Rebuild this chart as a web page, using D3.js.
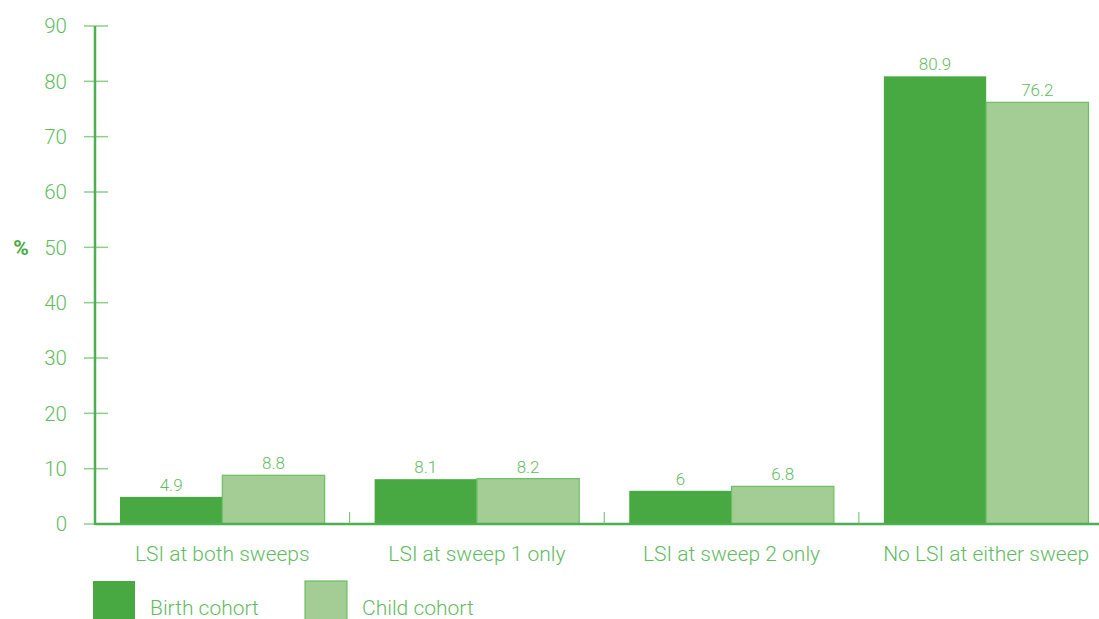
<!DOCTYPE html>
<html><head><meta charset="utf-8">
<script src="https://cdn.jsdelivr.net/npm/d3@7"></script>
<style>body{margin:0;background:#fff;overflow:hidden}svg{display:block;font-family:Roboto,"Liberation Sans",sans-serif;font-weight:300}</style>
</head><body><svg id="c" width="1099" height="619"></svg>
<script>
const categories = ["LSI at both sweeps","LSI at sweep 1 only","LSI at sweep 2 only","No LSI at either sweep"];
const seriesNames = ["Birth cohort","Child cohort"];
const birthValues = [4.9, 8.1, 6, 80.9];
const childValues = [8.8, 8.2, 6.8, 76.2];
const yTicks = [0,10,20,30,40,50,60,70,80,90];

const colors = ["#48a942", "#a3cd94"];
const strokes = ["#48a942", "#6cbf63"];
const textColor = "#62bb5f";
const axisColor = "#4caf50";

const svg = d3.select("#c");
const x0 = 95, yBottom = 524, yTop = 26;
const y = d3.scaleLinear().domain([0,90]).range([yBottom, yTop]);
const x = d3.scaleBand().domain(categories).range([x0, 1113.5]).paddingInner(0).paddingOuter(0);
const sub = d3.scaleBand().domain(seriesNames).range([25, x.bandwidth()-25]);

// y ticks
svg.append("g").selectAll("line").data(yTicks).join("line")
  .attr("x1", 84).attr("x2", 108).attr("y1", d=>y(d)).attr("y2", d=>y(d))
  .attr("stroke", "#8fcf86").attr("stroke-width", 1.5);
svg.append("g").selectAll("text").data(yTicks).join("text")
  .attr("x", 67).attr("y", d=>y(d)).attr("dy","0.36em").attr("text-anchor","end")
  .attr("fill", textColor).attr("font-size", 20.5).text(d=>d);
svg.append("text").attr("x", 21).attr("y", 247).attr("dy","0.36em").attr("text-anchor","middle")
  .attr("fill", "#48a942").attr("font-size", 21).attr("font-weight", 700).text("%");

// bars
const data = categories.map((c,i)=>({c, vals:[birthValues[i], childValues[i]]}));
const g = svg.append("g").selectAll("g").data(data).join("g").attr("transform", d=>`translate(${x(d.c)},0)`);
g.selectAll("rect").data(d=>d.vals.map((v,j)=>({v, s:seriesNames[j], j}))).join("rect")
  .attr("x", d=>sub(d.s)).attr("width", sub.bandwidth())
  .attr("y", d=>y(d.v)).attr("height", d=>yBottom - y(d.v))
  .attr("fill", d=>colors[d.j]).attr("stroke", d=>d.j===1?strokes[1]:"none").attr("stroke-width", 1.2);
g.selectAll("text").data(d=>d.vals.map((v,j)=>({v, s:seriesNames[j], j}))).join("text")
  .attr("x", d=>sub(d.s)+sub.bandwidth()/2).attr("y", d=>y(d.v)-6)
  .attr("text-anchor","middle").attr("fill", textColor).attr("font-size", 17).text(d=>d.v);

// axes
svg.append("line").attr("x1", x0).attr("x2", x0).attr("y1", yTop).attr("y2", yBottom+1)
  .attr("stroke", axisColor).attr("stroke-width", 2.5);
svg.append("line").attr("x1", x0).attr("x2", 1099).attr("y1", yBottom).attr("y2", yBottom)
  .attr("stroke", axisColor).attr("stroke-width", 2.5);
svg.append("g").selectAll("line").data(categories.slice(1)).join("line")
  .attr("x1", d=>x(d)).attr("x2", d=>x(d)).attr("y1", yBottom-12).attr("y2", yBottom)
  .attr("stroke", "#6cbf63").attr("stroke-width", 1);
svg.append("g").selectAll("text").data(categories).join("text")
  .attr("x", d=>x(d)+x.bandwidth()/2).attr("y", 553).attr("dy","0.36em").attr("text-anchor","middle")
  .attr("fill", textColor).attr("font-size", 21).text(d=>d);

// legend
const lg = svg.append("g").selectAll("g").data(seriesNames).join("g")
  .attr("transform", (d,i)=>`translate(${[93,305][i]},581)`);
lg.append("rect").attr("width", 42).attr("height", 40).attr("fill", (d,i)=>colors[i])
  .attr("stroke", (d,i)=>i===1?strokes[1]:"none").attr("stroke-width",1.2);
lg.append("text").attr("x", 57).attr("y", 26).attr("dy","0.36em").attr("fill", textColor)
  .attr("font-size", 21).text(d=>d);
</script></body></html>
